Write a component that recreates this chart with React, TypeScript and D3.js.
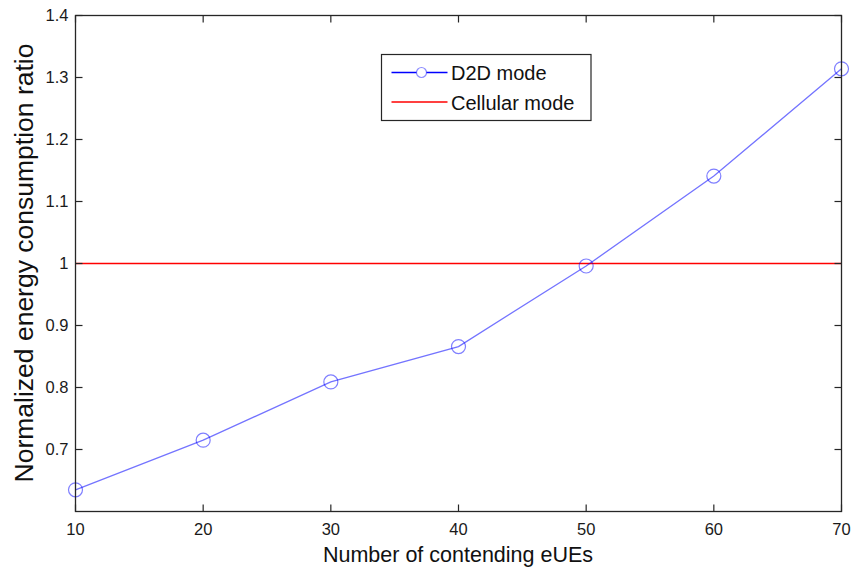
import React from "react";
import * as d3 from "d3";

// Number of contending eUEs
const contendingEUEs = [10, 20, 30, 40, 50, 60, 70];
// Normalized energy consumption ratio, D2D mode
const d2dRatio = [0.635, 0.715, 0.809, 0.866, 0.996, 1.141, 1.314];
// Cellular mode reference level
const cellularRatio = 1.0;

const xTicks = [10, 20, 30, 40, 50, 60, 70];
const yTicks = [0.7, 0.8, 0.9, 1.0, 1.1, 1.2, 1.3, 1.4];
const yTickLabels = ["0.7", "0.8", "0.9", "1", "1.1", "1.2", "1.3", "1.4"];

const seriesNames = ["D2D mode", "Cellular mode"];

const W = 853;
const H = 569;
const M = { left: 75.5, right: 841.5, top: 15.5, bottom: 511.5 };
const FONT = "'Liberation Sans', Arial, sans-serif";

export default function App() {
  const x = d3.scaleLinear().domain([10, 70]).range([M.left, M.right]);
  const y = d3.scaleLinear().domain([0.6, 1.4]).range([M.bottom, M.top]);

  const line = d3
    .line<number>()
    .x((_, i) => x(contendingEUEs[i]))
    .y((d) => y(d));

  const axisColor = "#262626";
  const tickLen = 7;
  const blue = "#0000ff";

  // legend geometry
  const lg = { x0: 381.5, y0: 54.5, x1: 591, y1: 120.5 };
  const row1 = 72.5;
  const row2 = 102;

  return (
    <svg
      width={W}
      height={H}
      style={{ position: "absolute", left: 0, top: 0, background: "#fff" }}
      fontFamily={FONT}
    >
      <rect x={0} y={0} width={W} height={H} fill="#fff" />

      {/* cellular mode reference */}
      <line
        x1={x(10)}
        x2={x(70)}
        y1={y(cellularRatio)}
        y2={y(cellularRatio)}
        stroke="#ff0000"
        strokeWidth={1.3}
      />

      {/* D2D series */}
      <path
        d={line(d2dRatio) || ""}
        fill="none"
        stroke={blue}
        strokeOpacity={0.55}
        strokeWidth={1.3}
      />
      {d2dRatio.map((v, i) => (
        <circle
          key={i}
          cx={x(contendingEUEs[i])}
          cy={y(v)}
          r={7}
          fill="none"
          stroke={blue}
          strokeOpacity={0.5}
          strokeWidth={1.2}
        />
      ))}

      {/* axes box */}
      <rect
        x={M.left}
        y={M.top}
        width={M.right - M.left}
        height={M.bottom - M.top}
        fill="none"
        stroke={axisColor}
        strokeWidth={1.3}
      />

      {/* x ticks (bottom and top) */}
      {xTicks.map((t) => (
        <g key={"x" + t}>
          <line x1={x(t)} x2={x(t)} y1={M.bottom} y2={M.bottom - tickLen} stroke={axisColor} strokeWidth={1.2} />
          <line x1={x(t)} x2={x(t)} y1={M.top} y2={M.top + tickLen} stroke={axisColor} strokeWidth={1.2} />
          <text
            x={x(t)}
            y={535}
            textAnchor="middle"
            fontSize={16.5}
            fill="#1a1a1a"
          >
            {t}
          </text>
        </g>
      ))}

      {/* y ticks (left and right) */}
      {yTicks.map((t, i) => (
        <g key={"y" + t}>
          <line x1={M.left} x2={M.left + tickLen} y1={y(t)} y2={y(t)} stroke={axisColor} strokeWidth={1.2} />
          <line x1={M.right} x2={M.right - tickLen} y1={y(t)} y2={y(t)} stroke={axisColor} strokeWidth={1.2} />
          <text
            x={68.5}
            y={y(t)}
            dy="0.36em"
            textAnchor="end"
            fontSize={16.5}
            fill="#1a1a1a"
          >
            {yTickLabels[i]}
          </text>
        </g>
      ))}

      {/* axis titles */}
      <text
        x={(M.left + M.right) / 2 - 0.5}
        y={562}
        textAnchor="middle"
        fontSize={21.5}
        fill="#111"
      >
        Number of contending eUEs
      </text>
      <text
        transform={`translate(33,263) rotate(-90)`}
        textAnchor="middle"
        fontSize={26.5}
        fill="#111"
      >
        Normalized energy consumption ratio
      </text>

      {/* legend */}
      <rect
        x={lg.x0}
        y={lg.y0}
        width={lg.x1 - lg.x0}
        height={lg.y1 - lg.y0}
        fill="#fff"
        stroke={axisColor}
        strokeWidth={1.2}
      />
      <line x1={391.5} x2={447.5} y1={row1} y2={row1} stroke={blue} strokeWidth={1.3} />
      <circle cx={421.5} cy={row1} r={5} fill="#fff" stroke={blue} strokeOpacity={0.45} strokeWidth={1.2} />
      <text x={451} y={row1 + 7.5} fontSize={20} fill="#111">
        {seriesNames[0]}
      </text>
      <line x1={391.5} x2={447.5} y1={row2} y2={row2} stroke="#ff0000" strokeWidth={1.3} />
      <text x={451} y={row2 + 7.5} fontSize={20} fill="#111">
        {seriesNames[1]}
      </text>
    </svg>
  );
}
